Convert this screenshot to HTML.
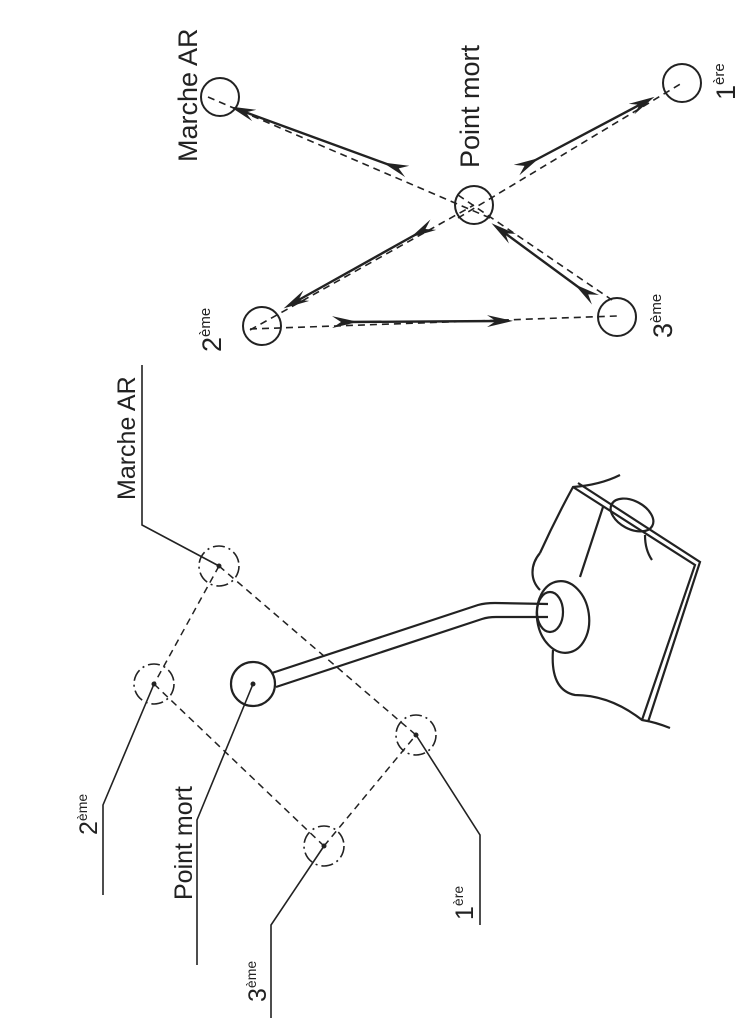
<!DOCTYPE html>
<html><head><meta charset="utf-8"><style>
html,body{margin:0;padding:0;background:#fff}
svg{display:block}
text{font-family:"Liberation Sans Narrow","Liberation Sans",sans-serif;fill:#222}
</style></head><body>
<svg width="753" height="1024" viewBox="0 0 753 1024" xmlns="http://www.w3.org/2000/svg">
<defs>
<marker id="a" viewBox="0 0 26 12" refX="13" refY="6" markerWidth="26" markerHeight="12" markerUnits="userSpaceOnUse" orient="auto">
<path d="M0,0 L26,6 L0,12 L9,6 Z" fill="#222"/>
</marker>
</defs>
<g stroke="#222" fill="none" stroke-width="2">
<circle cx="220" cy="97" r="19"/>
<circle cx="682" cy="83" r="19"/>
<circle cx="474" cy="205" r="19"/>
<circle cx="262" cy="326" r="19"/>
<circle cx="617" cy="317" r="19"/>
</g>
<g stroke="#222" fill="none" stroke-width="1.6" stroke-dasharray="7,5">
<line x1="208" y1="97" x2="490" y2="218"/>
<line x1="458" y1="218" x2="682" y2="83"/>
<line x1="458" y1="195" x2="612" y2="300"/>
<line x1="250" y1="330" x2="474" y2="205"/>
<line x1="250" y1="329" x2="617" y2="316"/>
</g>
<g stroke="#222" fill="none" stroke-width="2.4">
<line x1="395" y1="167" x2="242" y2="111" marker-start="url(#a)" marker-end="url(#a)"/>
<line x1="528" y1="164" x2="643" y2="103" marker-start="url(#a)" marker-end="url(#a)"/>
<line x1="422" y1="231" x2="295" y2="302" marker-start="url(#a)" marker-end="url(#a)"/>
<line x1="585" y1="292" x2="502" y2="231" marker-start="url(#a)" marker-end="url(#a)"/>
<line x1="345" y1="322" x2="500" y2="321" marker-start="url(#a)" marker-end="url(#a)"/>
</g>
<g font-size="27">
<text transform="translate(197,162) rotate(-90)">Marche AR</text>
<text transform="translate(479,168) rotate(-90)">Point mort</text>
<text transform="translate(221,352) rotate(-90)">2<tspan font-size="15" dy="-11">ème</tspan></text>
<text transform="translate(672,338) rotate(-90)">3<tspan font-size="15" dy="-11">ème</tspan></text>
<text transform="translate(735,100) rotate(-90)">1<tspan font-size="15" dy="-11">ère</tspan></text>
</g>
<g stroke="#222" fill="none" stroke-width="1.5" stroke-dasharray="7,5">
<line x1="219" y1="566" x2="416" y2="735"/>
<line x1="219" y1="566" x2="154" y2="684"/>
<line x1="154" y1="684" x2="324" y2="846"/>
<line x1="324" y1="846" x2="416" y2="735"/>
</g>
<g stroke="#222" fill="none" stroke-width="1.6" stroke-dasharray="12,4,2,4">
<circle cx="219" cy="566" r="20"/>
<circle cx="154" cy="684" r="20"/>
<circle cx="324" cy="846" r="20"/>
<circle cx="416" cy="735" r="20"/>
</g>
<g fill="#222"><circle cx="219" cy="566" r="2.5"/><circle cx="154" cy="684" r="2.5"/><circle cx="324" cy="846" r="2.5"/><circle cx="416" cy="735" r="2.5"/><circle cx="253" cy="684" r="2.5"/></g>
<g stroke="#222" fill="none" stroke-width="1.6">
<polyline points="142,365 142,525 219,566"/>
<polyline points="154,684 103,805 103,895"/>
<polyline points="253,684 197,820 197,965"/>
<polyline points="324,846 271,925 271,1018"/>
<polyline points="416,735 480,835 480,925"/>
</g>
<g font-size="25">
<text transform="translate(135,500) rotate(-90)">Marche AR</text>
<text transform="translate(97,835) rotate(-90)">2<tspan font-size="14" dy="-10">ème</tspan></text>
<text transform="translate(192,900) rotate(-90)">Point mort</text>
<text transform="translate(266,1002) rotate(-90)">3<tspan font-size="14" dy="-10">ème</tspan></text>
<text transform="translate(473,920) rotate(-90)">1<tspan font-size="14" dy="-10">ère</tspan></text>
</g>
<g stroke="#222" fill="none" stroke-width="2.2">
<circle cx="253" cy="684" r="22"/>
<path d="M272,673 L478,605 Q485,603 495,603 L548,604"/>
<path d="M276,687 L482,619 Q488,617 496,617 L548,617"/>
<ellipse cx="563" cy="617" rx="26" ry="36" transform="rotate(-8 563 617)"/>
<ellipse cx="550" cy="612" rx="13" ry="20"/>
<path d="M540,553 C530,565 530,580 540,590"/>
<path d="M540,553 Q555,520 573,487 Q600,485 620,475"/>
<path d="M573,487 L695,565 L642,720"/>
<path d="M578,483 L700,562 L648,722"/>
<ellipse cx="632" cy="515" rx="23" ry="14" transform="rotate(28 632 515)"/>
<path d="M645,535 Q645,550 652,560"/>
<path d="M603,507 L580,577"/>
<path d="M553,650 Q550,690 575,695 Q610,695 642,720 Q655,722 670,728"/>
</g>
</svg>
</body></html>
